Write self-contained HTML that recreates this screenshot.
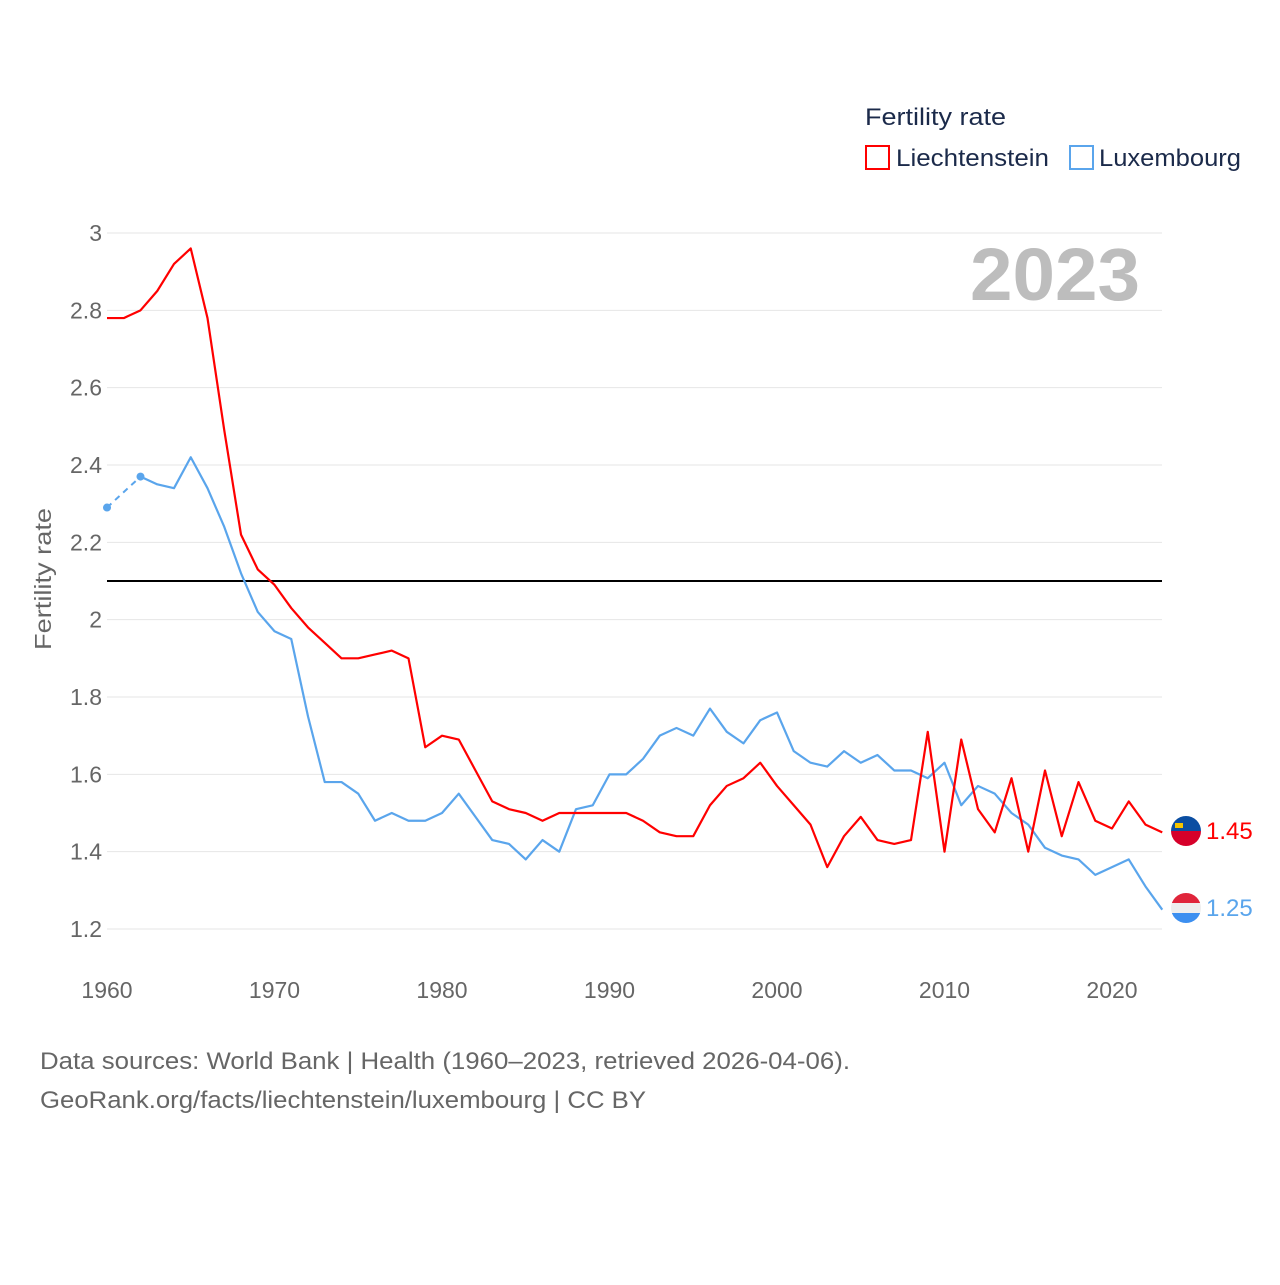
<!DOCTYPE html>
<html><head><meta charset="utf-8"><style>
body{margin:0;background:#fff;width:1280px;height:1280px;overflow:hidden;font-family:"Liberation Sans",sans-serif}
</style></head><body>
<svg id="chart" width="1280" height="1280" xmlns="http://www.w3.org/2000/svg" style="font-family:'Liberation Sans',sans-serif">
<defs>
<clipPath id="c1"><circle cx="1186" cy="831" r="15"/></clipPath>
<clipPath id="c2"><circle cx="1186" cy="908" r="15"/></clipPath>
</defs>
<g id="grid"></g>
<g id="yticks"></g>
<g id="xticks"></g>
<text transform="translate(51,579) rotate(-90)" text-anchor="middle" font-size="23" textLength="142" lengthAdjust="spacingAndGlyphs" fill="#666">Fertility rate</text>
<text x="1140" y="300" text-anchor="end" font-size="74" font-weight="bold" textLength="170" lengthAdjust="spacingAndGlyphs" fill="#bdbdbd">2023</text>
<g id="lines"></g>
<text x="865" y="125" font-size="24" textLength="141" lengthAdjust="spacingAndGlyphs" fill="#1b2a4a">Fertility rate</text>
<g>
<rect x="866" y="146" width="23" height="23" fill="none" stroke="#f00" stroke-width="2"/>
<text x="896" y="166" font-size="24" textLength="153" lengthAdjust="spacingAndGlyphs" fill="#1b2a4a">Liechtenstein</text></g>
<g>
<rect x="1070" y="146" width="23" height="23" fill="none" stroke="#5aa5ec" stroke-width="2"/>
<text x="1099" y="166" font-size="24" textLength="142" lengthAdjust="spacingAndGlyphs" fill="#1b2a4a">Luxembourg</text></g>
<g clip-path="url(#c1)">
<rect x="1170" y="815" width="32" height="16" fill="#0b4ea2"/><rect x="1170" y="831" width="32" height="16" fill="#d6002a"/>
<rect x="1175" y="823" width="8" height="5" fill="#f5c400"/></g>
<g clip-path="url(#c2)">
<rect x="1170" y="892" width="32" height="11" fill="#e0253b"/><rect x="1170" y="903" width="32" height="10" fill="#eee"/><rect x="1170" y="913" width="32" height="11" fill="#3c8ff0"/></g>
<text x="1206" y="839" font-size="24" fill="#f00">1.45</text>
<text x="1206" y="916" font-size="24" fill="#5aa5ec">1.25</text>
<text x="40" y="1069" font-size="24" textLength="810" lengthAdjust="spacingAndGlyphs" fill="#666">Data sources: World Bank | Health (1960–2023, retrieved 2026-04-06).</text>
<text x="40" y="1108" font-size="24" textLength="606" lengthAdjust="spacingAndGlyphs" fill="#666">GeoRank.org/facts/liechtenstein/luxembourg | CC BY</text>
</svg>
<script>
const years=[];for(let y=1960;y<=2023;y++)years.push(y);
const liechtenstein=[2.78,2.78,2.80,2.85,2.92,2.96,2.78,2.49,2.22,2.13,2.09,2.03,1.98,1.94,1.90,1.90,1.91,1.92,1.90,1.67,1.70,1.69,1.61,1.53,1.51,1.50,1.48,1.50,1.50,1.50,1.50,1.50,1.48,1.45,1.44,1.44,1.52,1.57,1.59,1.63,1.57,1.52,1.47,1.36,1.44,1.49,1.43,1.42,1.43,1.71,1.40,1.69,1.51,1.45,1.59,1.40,1.61,1.44,1.58,1.48,1.46,1.53,1.47,1.45];
const luxembourg=[2.29,null,2.37,2.35,2.34,2.42,2.34,2.24,2.12,2.02,1.97,1.95,1.75,1.58,1.58,1.55,1.48,1.50,1.48,1.48,1.50,1.55,1.49,1.43,1.42,1.38,1.43,1.40,1.51,1.52,1.60,1.60,1.64,1.70,1.72,1.70,1.77,1.71,1.68,1.74,1.76,1.66,1.63,1.62,1.66,1.63,1.65,1.61,1.61,1.59,1.63,1.52,1.57,1.55,1.50,1.47,1.41,1.39,1.38,1.34,1.36,1.38,1.31,1.25];
const yTicks=[1.2,1.4,1.6,1.8,2,2.2,2.4,2.6,2.8,3];
const xTicks=[1960,1970,1980,1990,2000,2010,2020];
const replacement=[2.1];
const NS="http://www.w3.org/2000/svg";
const X=v=>107+(v-1960)*16.75;
const Y=v=>233+(3-v)*386.67;
function el(t,a,p){const e=document.createElementNS(NS,t);for(const k in a)e.setAttribute(k,a[k]);p.appendChild(e);return e;}
const grid=document.getElementById('grid'),yt=document.getElementById('yticks'),xt=document.getElementById('xticks'),lines=document.getElementById('lines');
yTicks.forEach(v=>{
 const l=el('line',{x1:107,x2:1162,y1:Y(v),y2:Y(v),stroke:'#e6e6e6','stroke-width':1},grid);
 
 
 const t=el('text',{x:102,y:Y(v)+8,'text-anchor':'end','font-size':23,fill:'#666'},yt);
 t.textContent=String(v);
 
 
});
xTicks.forEach(v=>{
 const t=el('text',{x:X(v),y:998,'text-anchor':'middle','font-size':23,fill:'#666'},xt);
 t.textContent=String(v);
 
 
});
replacement.forEach(v=>{
 const l=el('line',{x1:107,x2:1162,y1:Y(v),y2:Y(v),stroke:'#000','stroke-width':2},lines);
 
 
});
function draw(data,color,name){
 let d='',pen=false;
 data.forEach((v,i)=>{if(v==null){pen=false;return;}d+=(pen?'L':'M')+X(years[i])+','+Y(v);pen=true;});
 for(let i=1;i<data.length-1;i++){if(data[i]==null&&data[i-1]!=null&&data[i+1]!=null){
  const b=el('line',{x1:X(years[i-1]),y1:Y(data[i-1]),x2:X(years[i+1]),y2:Y(data[i+1]),stroke:color,'stroke-width':2,'stroke-dasharray':'6,5'},lines);
  
  
  const c1=el('circle',{cx:X(years[i-1]),cy:Y(data[i-1]),r:4,fill:color},lines);
  
  
  const c2=el('circle',{cx:X(years[i+1]),cy:Y(data[i+1]),r:4,fill:color},lines);
  
  
 }}
 const p=el('path',{d:d,fill:'none',stroke:color,'stroke-width':2.2,'stroke-linejoin':'round'},lines);
 
 
}
draw(luxembourg,'#5aa5ec','luxembourg');
draw(liechtenstein,'#f00','liechtenstein');
</script>
</body></html>
